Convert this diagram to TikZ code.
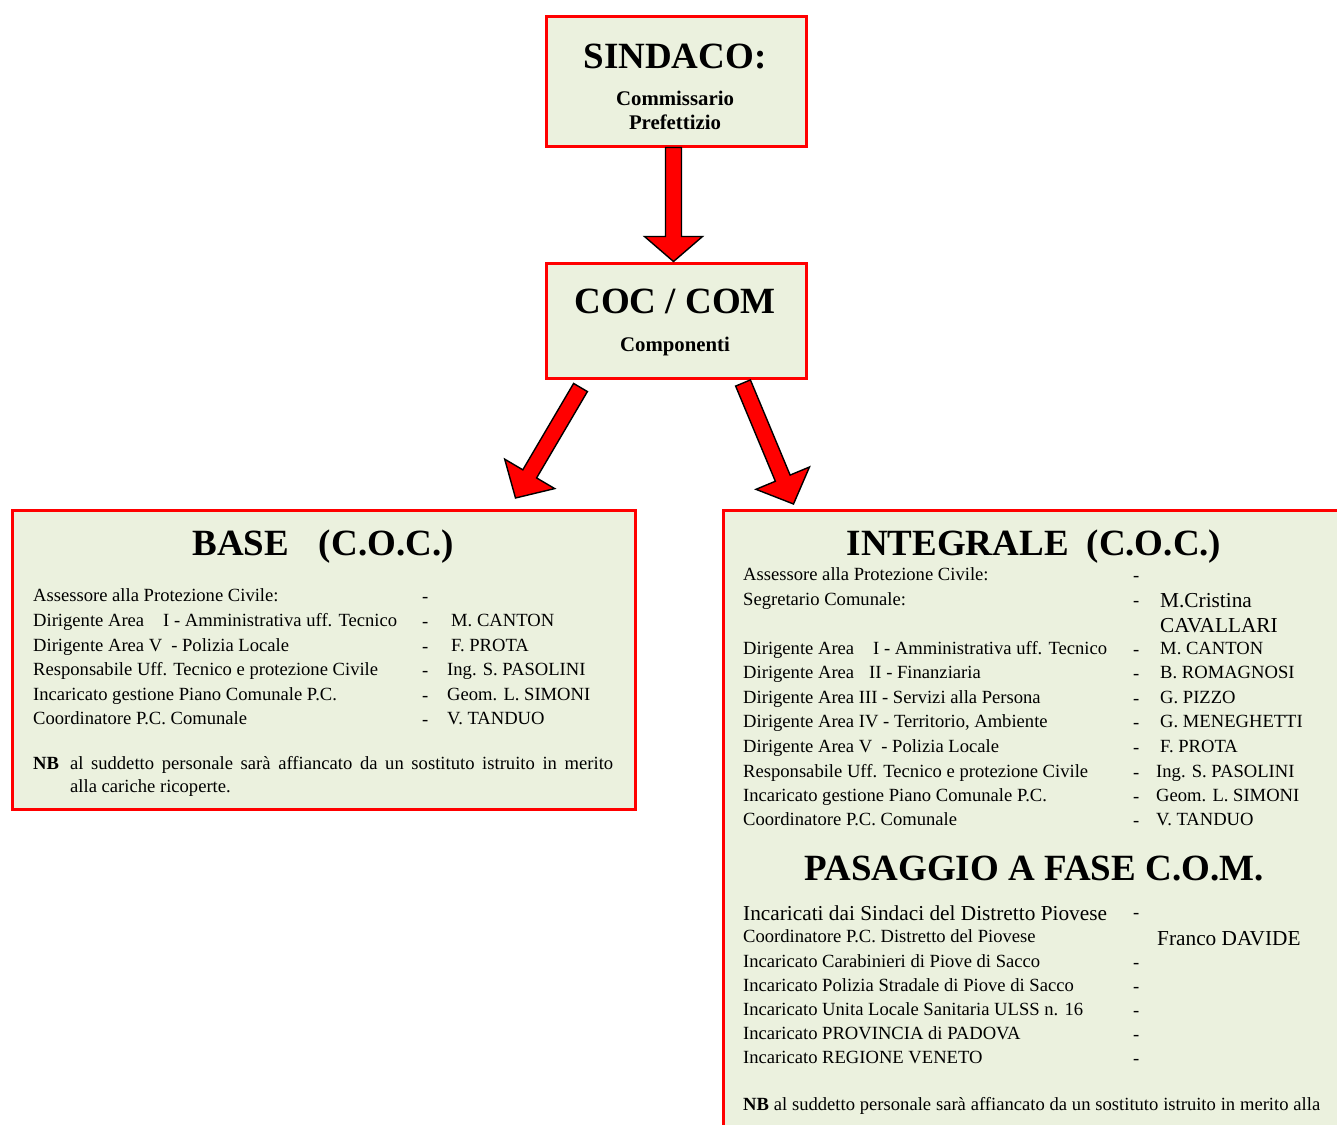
\documentclass[tikz,border=0pt]{standalone}
\usepackage{fontspec}
\setmainfont{Liberation Serif}
\usetikzlibrary{calc}
\definecolor{boxfill}{HTML}{EBF1DE}
\definecolor{boxred}{HTML}{FF0000}
% block arrow from #1 to #2, head length #3
\newcommand\blockarr[3]{%
  \coordinate (bah) at ($(#2)!#3!(#1)$);
  \draw[arrowbody] ($(#1)!8pt!90:(#2)$) -- ($(bah)!8pt!90:(#2)$) -- ($(bah)!29pt!90:(#2)$) -- (#2)
     -- ($(bah)!29pt!-90:(#2)$) -- ($(bah)!8pt!-90:(#2)$) -- ($(#1)!8pt!-90:(#2)$) -- cycle;}
\begin{document}
\begin{tikzpicture}[x=1pt,y=-1pt,
  box/.style={draw=boxred, line width=3pt, fill=boxfill, inner sep=0, anchor=north west},
  arrowbody/.style={draw=black, line width=1.4pt, fill=red, line join=miter},
  ttl/.style={font=\fontsize{37}{40}\selectfont\bfseries, anchor=base, inner sep=0},
  sub/.style={font=\fontsize{20.8}{24}\selectfont\bfseries, anchor=base, inner sep=0},
  txt/.style={font=\fontsize{18.6}{22}\selectfont, anchor=base west, inner sep=0},
  big/.style={font=\fontsize{21.3}{24}\selectfont, anchor=base west, inner sep=0},
]
\clip (0,0) rectangle (1337,1124);
\fill[white] (0,0) rectangle (1337,1124);

% boxes
\node[box, minimum width=260pt, minimum height=129pt] (sindaco) at (545,15.5) {};
\node[box, minimum width=260pt, minimum height=115pt] (coc) at (545,261.5) {};
\node[box, minimum width=623pt, minimum height=299pt] (base) at (11,509) {};
\node[box, minimum width=640pt, minimum height=640pt] (integrale) at (722,509) {};

% arrows
\coordinate (a0) at ($(sindaco.south)+(-3,0)$);
\coordinate (a1) at ($(coc.north)+(-3,0)$);
\blockarr{a0}{a1}{25pt}
\coordinate (l0) at ($(coc.south)+(-96,8)$);
\coordinate (l1) at ($(base.north)+(191.5,-11)$);
\blockarr{l0}{l1}{28pt}
\coordinate (r0) at ($(coc.south)+(66.5,3.5)$);
\coordinate (r1) at ($(integrale.north)+(-250,-5)$);
\blockarr{r0}{r1}{28pt}

% SINDACO / COC texts
\node[ttl] (sT) at (675,68) {SINDACO:};
\node[sub] (sS1) at (675,105) {Commissario};
\node[sub] (sS2) at (675,129) {Prefettizio};
\node[ttl] (cT) at (675,313) {COC / COM};
\node[sub] (cS) at (675,351) {Componenti};

% BASE
\node[ttl] (bT) at (323,555) {BASE\hspace{30pt}(C.O.C.)};
\node[txt] (b1) at (33,601) {Assessore alla Protezione Civile:};
\node[txt] (b2) at (33,626) {Dirigente Area\hspace{19pt}I - Amministrativa uff. Tecnico};
\node[txt] (b3) at (33,651) {Dirigente Area V\hspace{9pt}- Polizia Locale};
\node[txt] (b4) at (33,675) {Responsabile Uff. Tecnico e protezione Civile};
\node[txt] (b5) at (33,700) {Incaricato gestione Piano Comunale P.C.};
\node[txt] (b6) at (33,724) {Coordinatore P.C. Comunale};
\node[txt] (bd1) at (422,602) {-};
\node[txt] (bd2) at (422,627) {-};
\node[txt] (bd3) at (422,652) {-};
\node[txt] (bd4) at (422,676) {-};
\node[txt] (bd5) at (422,701) {-};
\node[txt] (bd6) at (422,725) {-};
\node[txt] (bn2) at (451,626) {M. CANTON};
\node[txt] (bn3) at (451,651) {F. PROTA};
\node[txt] (bn4) at (447,675) {Ing. S. PASOLINI};
\node[txt] (bn5) at (447,700) {Geom. L. SIMONI};
\node[txt] (bn6) at (447,724) {V. TANDUO};
\node[txt] (bnb1) at (33,769) {\makebox[580pt][s]{\textbf{NB}\hspace{11pt}al suddetto personale sarà affiancato da un sostituto istruito in merito}};
\node[txt] (bnb2) at (70,792) {alla cariche ricoperte.};

% INTEGRALE
\node[ttl] (iT) at (1034,555) {INTEGRALE\hspace{18pt}(C.O.C.)};
\node[txt] (i1) at (743,580) {Assessore alla Protezione Civile:};
\node[txt] (i2) at (743,605) {Segretario Comunale:};
\node[txt] (i3) at (743,654) {Dirigente Area\hspace{19pt}I - Amministrativa uff. Tecnico};
\node[txt] (i4) at (743,678) {Dirigente Area\hspace{15pt}II - Finanziaria};
\node[txt] (i5) at (743,703) {Dirigente Area III - Servizi alla Persona};
\node[txt] (i6) at (743,727) {Dirigente Area IV - Territorio, Ambiente};
\node[txt] (i7) at (743,752) {Dirigente Area V\hspace{9pt}- Polizia Locale};
\node[txt] (i8) at (743,777) {Responsabile Uff. Tecnico e protezione Civile};
\node[txt] (i9) at (743,801) {Incaricato gestione Piano Comunale P.C.};
\node[txt] (i10) at (743,825) {Coordinatore P.C. Comunale};
\node[txt] (id1) at (1133,581) {-};
\node[txt] (id2) at (1133,606) {-};
\node[txt] (id3) at (1133,655) {-};
\node[txt] (id4) at (1133,679) {-};
\node[txt] (id5) at (1133,704) {-};
\node[txt] (id6) at (1133,728) {-};
\node[txt] (id7) at (1133,753) {-};
\node[txt] (id8) at (1133,778) {-};
\node[txt] (id9) at (1133,802) {-};
\node[txt] (id10) at (1133,826) {-};
\node[big] (in2a) at (1160,607) {M.Cristina};
\node[big] (in2b) at (1160,632) {CAVALLARI};
\node[txt] (in3) at (1160,654) {M. CANTON};
\node[txt] (in4) at (1160,678) {B. ROMAGNOSI};
\node[txt] (in5) at (1160,703) {G. PIZZO};
\node[txt] (in6) at (1160,727) {G. MENEGHETTI};
\node[txt] (in7) at (1160,752) {F. PROTA};
\node[txt] (in8) at (1156,777) {Ing. S. PASOLINI};
\node[txt] (in9) at (1156,801) {Geom. L. SIMONI};
\node[txt] (in10) at (1156,825) {V. TANDUO};

% PASAGGIO
\node[ttl] (pT) at (1034,880) {PASAGGIO A FASE C.O.M.};
\node[big] (p1) at (743,920) {Incaricati dai Sindaci del Distretto Piovese};
\node[txt] (p2) at (743,942) {Coordinatore P.C. Distretto del Piovese};
\node[txt] (p3) at (743,967) {Incaricato Carabinieri di Piove di Sacco};
\node[txt] (p4) at (743,991) {Incaricato Polizia Stradale di Piove di Sacco};
\node[txt] (p5) at (743,1015) {Incaricato Unita Locale Sanitaria ULSS n. 16};
\node[txt] (p6) at (743,1039) {Incaricato PROVINCIA di PADOVA};
\node[txt] (p7) at (743,1063) {Incaricato REGIONE VENETO};
\node[txt] (pd1) at (1133,918) {-};
\node[txt] (pd3) at (1133,968) {-};
\node[txt] (pd4) at (1133,992) {-};
\node[txt] (pd5) at (1133,1016) {-};
\node[txt] (pd6) at (1133,1040) {-};
\node[txt] (pd7) at (1133,1064) {-};
\node[big] (pn2) at (1157,945) {Franco DAVIDE};
\node[txt] (pnb) at (743,1110) {\makebox[577pt][s]{\textbf{NB} al suddetto personale sarà affiancato da un sostituto istruito in merito alla}};
\end{tikzpicture}
\end{document}
